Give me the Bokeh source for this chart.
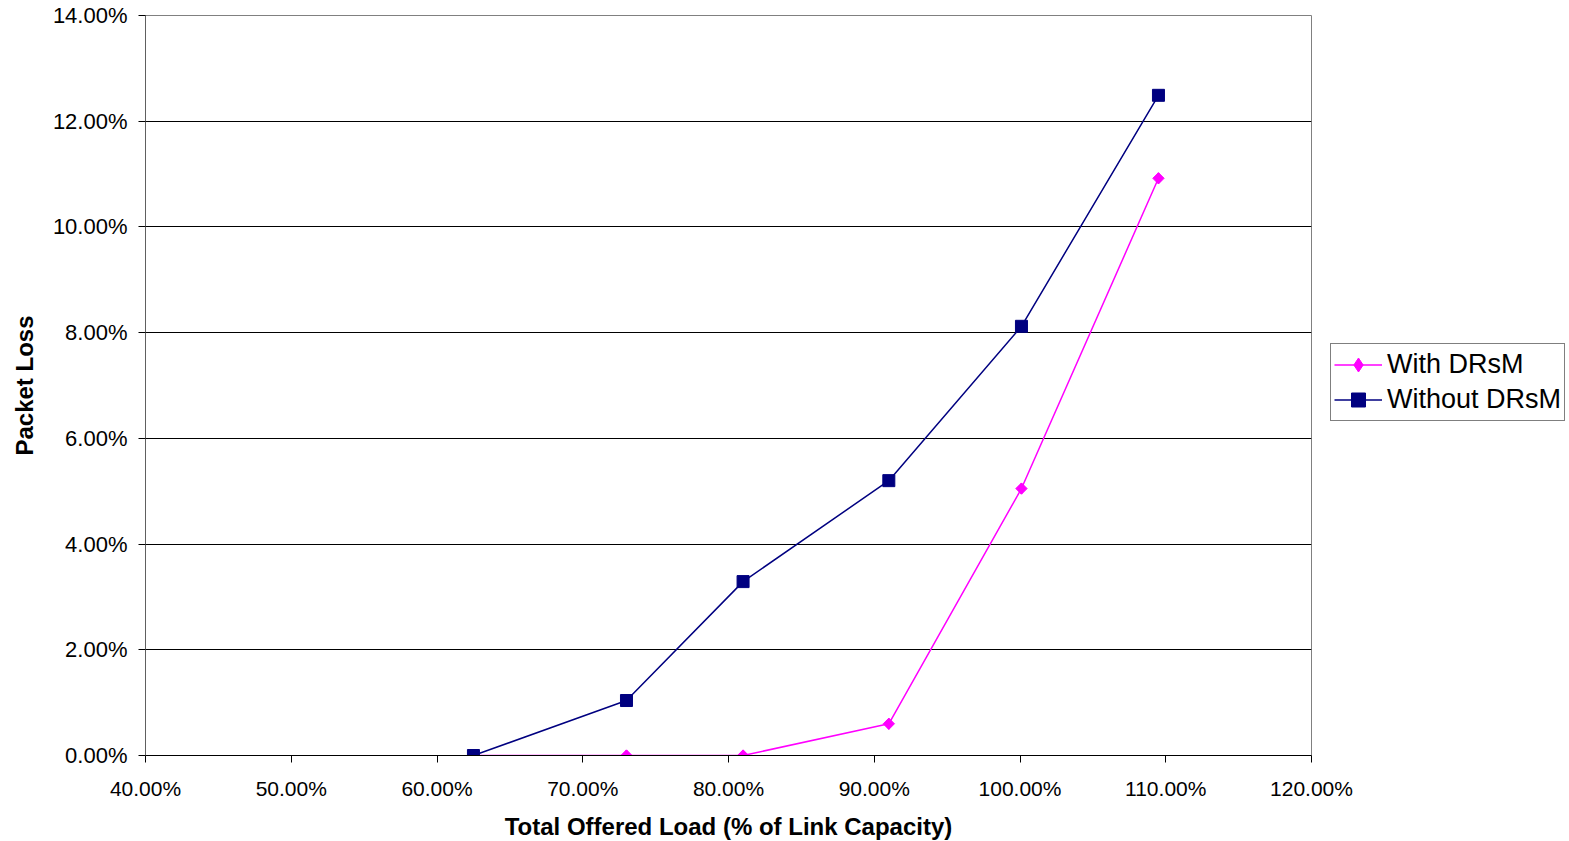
from bokeh.plotting import figure
from bokeh.models import Legend, LegendItem, PrintfTickFormatter, FixedTicker, Range1d
from bokeh.embed import file_html
from bokeh.resources import INLINE

load = [62.5, 73.0, 81.0, 91.0, 100.1, 109.5]
with_drsm = [0.0, 0.0, 0.0, 0.6, 5.05, 10.92]
without_drsm = [0.0, 1.04, 3.29, 5.2, 8.12, 12.49]
x_ticks = [40, 50, 60, 70, 80, 90, 100, 110, 120]
y_ticks = [0, 2, 4, 6, 8, 10, 12, 14]

FONT = "Liberation Sans"

p = figure(frame_width=1166, frame_height=740, output_backend="svg", toolbar_location=None,
           x_range=Range1d(40, 120), y_range=Range1d(0, 14),
           min_border_left=145, min_border_top=15, min_border_right=0, min_border_bottom=0)
p.background_fill_color = "white"
p.border_fill_color = "white"
p.outline_line_color = "#808080"
p.outline_line_width = 1

p.xgrid.visible = False
p.ygrid.grid_line_color = "black"
p.ygrid.grid_line_width = 1
p.ygrid.ticker = FixedTicker(ticks=y_ticks)

p.xaxis.ticker = FixedTicker(ticks=x_ticks)
p.yaxis.ticker = FixedTicker(ticks=y_ticks)
p.xaxis.formatter = PrintfTickFormatter(format="%.2f%%")
p.yaxis.formatter = PrintfTickFormatter(format="%.2f%%")
for ax in (p.xaxis, p.yaxis):
    ax.major_label_text_font = FONT
    ax.major_label_text_color = "black"
    ax.axis_label_text_font = FONT
    ax.axis_label_text_font_size = "24px"
    ax.axis_label_text_font_style = "bold"
    ax.axis_label_text_color = "black"
    ax.minor_tick_line_color = None
    ax.major_tick_in = 0
    ax.major_tick_out = 7
p.xaxis.major_label_text_font_size = "21px"
p.yaxis.major_label_text_font_size = "22px"
p.xaxis.axis_line_color = "black"
p.xaxis.major_tick_line_color = "black"
p.yaxis.axis_line_color = "#606060"
p.yaxis.major_tick_line_color = "black"
p.xaxis.axis_label = "Total Offered Load (% of Link Capacity)"
p.yaxis.axis_label = "Packet Loss"
p.xaxis.major_label_standoff = 14
p.yaxis.major_label_standoff = 11
p.xaxis.axis_label_standoff = 10
p.yaxis.axis_label_standoff = 12

l1 = p.line(load, with_drsm, line_color="#FF00FF", line_width=1.5)
# diamond glyph (used for the legend), covered by a rotated square of equal extent
d1 = p.scatter(load, with_drsm, marker="diamond", size=11, fill_color="#FF00FF", line_color="#FF00FF")
s1 = p.scatter(load, with_drsm, marker="square", angle=0.785398, size=8,
               fill_color="#FF00FF", line_color="#FF00FF")
l2 = p.line(load, without_drsm, line_color="#000080", line_width=1.5)
s2 = p.scatter(load, without_drsm, marker="square", size=12, fill_color="#000080", line_color="#000080")

legend = Legend(items=[LegendItem(label="With DRsM", renderers=[l1, d1]),
                       LegendItem(label="Without DRsM", renderers=[l2, s2])],
                location=(19, 334))
legend.label_text_font = FONT
legend.label_text_font_size = "27px"
legend.label_text_color = "black"
legend.border_line_color = "black"
legend.border_line_width = 1
legend.background_fill_color = "white"
legend.background_fill_alpha = 1
legend.glyph_width = 48
legend.glyph_height = 35
legend.label_height = 35
legend.label_standoff = 5
legend.spacing = 0
legend.padding = 3
legend.margin = 11
p.add_layout(legend, "right")

open("out.html", "w").write(file_html(p, INLINE))
